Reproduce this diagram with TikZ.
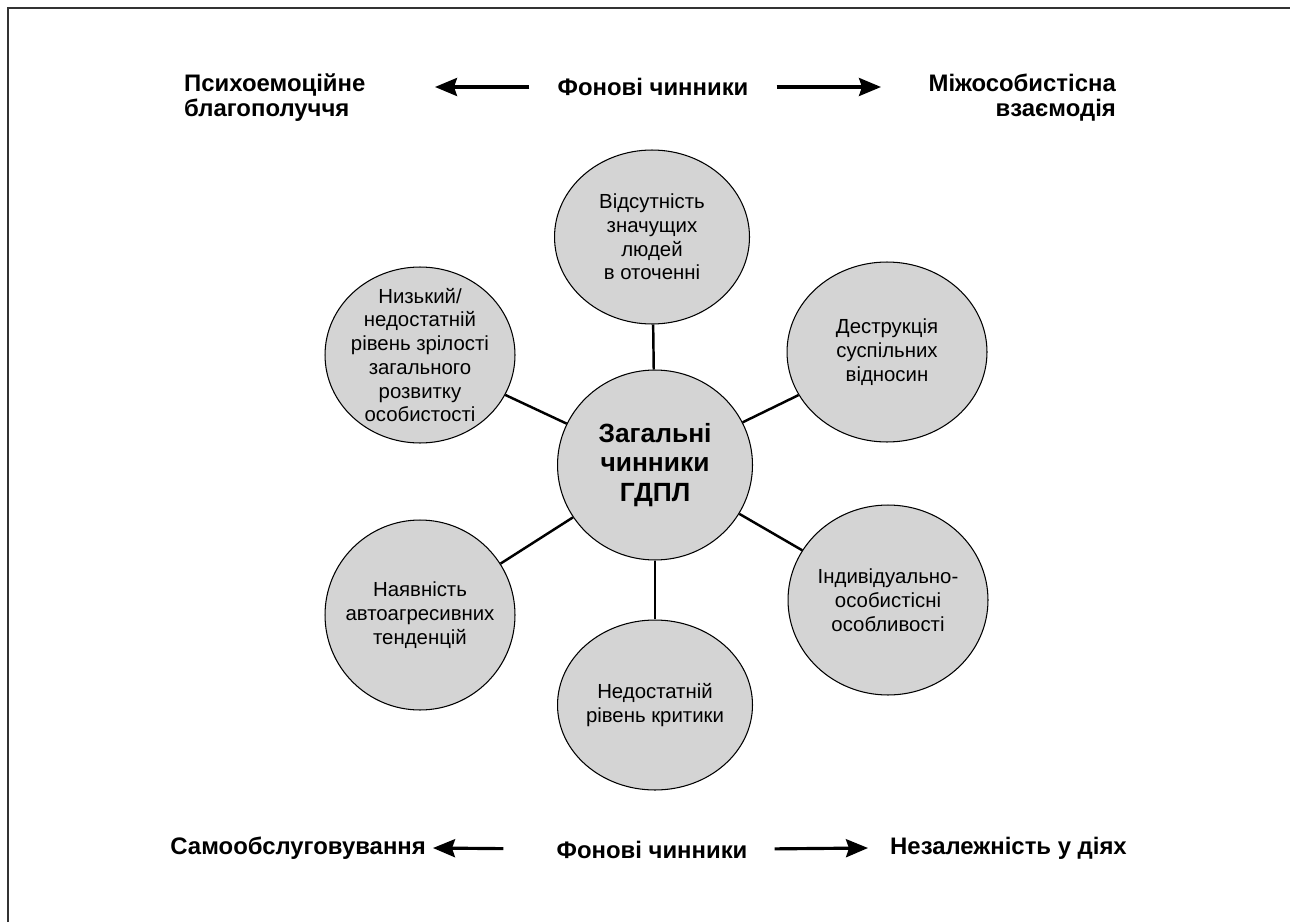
\documentclass[tikz,border=0pt]{standalone}
\usepackage{fontspec}
\setmainfont{Liberation Sans}
\usetikzlibrary{shapes.geometric,arrows.meta}

\begin{document}
\begin{tikzpicture}[x=0.02cm, y=-0.02cm,
    bubble/.style={ellipse, draw=black, line width=0.6pt, fill=black!17, inner sep=0pt},
    txt/.style={align=center, font=\fontsize{11.6}{13.5}\selectfont},
    head/.style={font=\fontsize{13.6}{14.2}\selectfont\bfseries},
    link/.style={line width=1.4pt},
    arrow/.style={line width=1.8pt, -{Stealth[length=0.44cm, width=0.36cm, inset=0.06cm]}},
    frame/.style={line width=1.1pt, draw=black!80}]
  \useasboundingbox (0,0) rectangle (1290,922);

  % Frame
  \draw[frame] (8,922) -- (8,8) -- (1290,8);

  % Central node
  \node[bubble, minimum width=3.9cm, minimum height=3.8cm] (core) at (655,465) {};
  \node[align=center, font=\fontsize{15}{16.8}\selectfont\bfseries] at (core) {Загальні\\чинники\\ГДПЛ};

  % Outer nodes
  \node[bubble, minimum width=3.9cm, minimum height=3.48cm] (top) at (652,237) {};
  \node[txt] at (top) {Відсутність\\значущих\\людей\\в оточенні};

  \node[bubble, minimum width=4.0cm, minimum height=3.6cm] (ru) at (887,352) {};
  \node[txt] at (ru) {Деструкція\\суспільних\\відносин};

  \node[bubble, minimum width=4.0cm, minimum height=3.8cm] (rl) at (888,600) {};
  \node[txt] at (rl) {Індивідуально-\\особистісні\\особливості};

  \node[bubble, minimum width=3.9cm, minimum height=3.4cm] (bot) at (655,705) {};
  \node[txt] at (bot) {Недостатній\\рівень критики};

  \node[bubble, minimum width=3.8cm, minimum height=3.8cm] (ll) at (420,615) {};
  \node[txt] at (ll) {Наявність\\автоагресивних\\тенденцій};

  \node[bubble, minimum width=3.8cm, minimum height=3.52cm] (lu) at (420,355) {};
  \node[txt] at (lu) {Низький/\\недостатній\\рівень зрілості\\загального\\розвитку\\особистості};

  % Spokes
  \foreach \n in {top, ru, rl, bot, ll, lu}
    \draw[link] (core) -- (\n);

  % Background factors, top row
  \node[head] (bgtop) at (653,87) {Фонові чинники};
  \node[head, anchor=west, align=left] (psy) at (178,98) {Психоемоційне\\благополуччя};
  \node[head, anchor=east, align=right] (inter) at (1122,98) {Міжособистісна\\взаємодія};
  \coordinate (tl) at (435,87);
  \coordinate (tr) at (881,87);
  \draw[arrow, shorten <=0.44cm] (bgtop) -- (tl);
  \draw[arrow, shorten <=0.44cm] (bgtop) -- (tr);

  % Background factors, bottom row
  \node[head] (bgbot) at (652,850) {Фонові чинники};
  \node[head, anchor=east] (self) at (432,848) {Самообслуговування};
  \node[head, anchor=west] (indep) at (884,848) {Незалежність у діях};
  \coordinate (bl) at (433,848);
  \coordinate (br) at (868,848);
  \draw[arrow, shorten <=0.94cm] (bgbot) -- (bl);
  \draw[arrow, shorten <=0.42cm] (bgbot) -- (br);
\end{tikzpicture}
\end{document}
